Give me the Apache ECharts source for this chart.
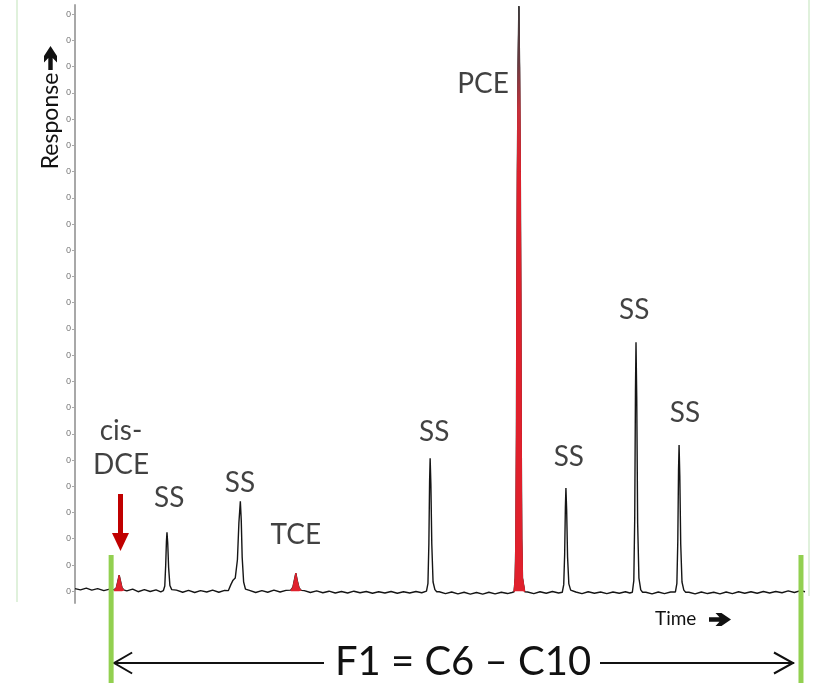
<!DOCTYPE html>
<html>
<head>
<meta charset="utf-8">
<script src="https://cdn.jsdelivr.net/npm/echarts@6/dist/echarts.min.js"></script>
<style>
  html, body { margin: 0; padding: 0; background: #fff; }
  #chart { width: 815px; height: 683px; }
</style>
</head>
<body>
<div id="chart"></div>
<script>
// Chromatogram: detector response vs. retention time (min)

// Baseline samples between peaks [time, response]
const baseline = [
  [0.00, 0.10], [0.15, 0.05], [0.31, 0.12], [0.46, 0.04], [0.62, 0.10], [0.79, 0.02], [0.95, 0.08],
  [1.42, 0.01], [1.58, 0.08], [1.73, -0.02], [1.90, 0.06], [2.06, -0.01], [2.22, 0.05], [2.35, -0.03],
  [2.78, 0.04], [2.95, -0.04], [3.11, 0.03], [3.28, -0.05], [3.44, 0.02], [3.61, -0.03], [3.77, 0.04],
  [3.94, -0.04], [4.10, 0.03],
  [4.78, 0.03], [4.95, -0.05], [5.12, 0.02], [5.28, -0.04], [5.45, 0.04], [5.62, -0.03], [5.78, 0.03],
  [6.28, 0.02], [6.45, -0.05], [6.62, 0.01], [6.79, -0.06], [6.96, 0.00], [7.13, -0.07], [7.30, -0.01],
  [7.47, -0.07], [7.64, 0.00], [7.81, -0.06], [7.98, -0.01], [8.15, -0.08], [8.32, -0.02], [8.49, -0.07],
  [8.66, -0.01], [8.83, -0.08], [9.00, -0.02], [9.17, -0.07], [9.34, -0.01], [9.50, -0.06],
  [9.98, -0.02], [10.15, -0.09], [10.32, -0.03], [10.49, -0.10], [10.66, -0.04], [10.83, -0.11],
  [11.00, -0.05], [11.17, -0.11], [11.34, -0.04], [11.51, -0.10], [11.68, -0.04], [11.85, -0.09], [11.97, -0.05],
  [12.40, -0.03], [12.57, -0.09], [12.74, -0.02], [12.91, -0.08], [13.08, -0.01], [13.25, -0.07],
  [13.72, -0.03], [13.89, -0.09], [14.06, -0.02], [14.23, -0.08], [14.40, -0.03], [14.57, -0.09],
  [14.74, -0.03], [14.91, -0.08], [15.08, -0.02], [15.20, -0.07],
  [15.64, -0.04], [15.81, -0.10], [15.98, -0.03], [16.15, -0.09], [16.32, -0.03],
  [16.82, -0.04], [16.99, -0.10], [17.16, -0.03], [17.33, -0.09], [17.50, -0.04], [17.67, -0.10],
  [17.84, -0.03], [18.01, -0.09], [18.18, -0.02], [18.35, -0.08], [18.52, -0.02], [18.69, -0.08],
  [18.86, -0.01], [19.03, -0.07], [19.20, -0.01], [19.37, -0.06], [19.54, 0.01], [19.71, -0.05],
  [19.88, 0.02], [20.00, -0.02]
];

// Target analytes (filled red)
const peakCisDCE = [[1.07, 0.05], [1.13, 0.12], [1.17, 0.35], [1.21, 0.61], [1.25, 0.36], [1.29, 0.12], [1.35, 0.04]];
const peakTCE = [[5.91, 0.04], [5.97, 0.15], [6.01, 0.42], [6.05, 0.69], [6.09, 0.40], [6.14, 0.12], [6.20, 0.03]];
const peakPCE = [[12.03, -0.02], [12.06, 0.5], [12.08, 2.0], [12.095, 6.0], [12.105, 11.0], [12.12, 16.0],
  [12.14, 20.0], [12.16, 22.3], [12.18, 20.0], [12.20, 16.0], [12.215, 11.0], [12.225, 6.0],
  [12.24, 2.0], [12.26, 0.5], [12.32, -0.02]];

// Surrogate standards
const peakSS1 = [[2.42, 0.02], [2.46, 0.20], [2.485, 1.00], [2.505, 1.90], [2.52, 2.25], [2.54, 1.85],
  [2.565, 0.90], [2.60, 0.22], [2.65, 0.06], [2.70, 0.02]];
const peakSS2 = [[4.20, 0.02], [4.27, 0.25], [4.33, 0.42], [4.39, 0.50], [4.45, 1.20], [4.49, 2.60],
  [4.53, 3.43], [4.555, 2.70], [4.58, 1.30], [4.62, 0.35], [4.67, 0.08], [4.72, 0.01]];
const peakSS3 = [[9.63, 0.00], [9.67, 0.30], [9.695, 1.80], [9.715, 4.20], [9.73, 5.07], [9.75, 4.10],
  [9.775, 1.80], [9.81, 0.35], [9.86, 0.06], [9.91, -0.02]];
const peakSS4 = [[13.35, -0.04], [13.39, 0.25], [13.415, 1.40], [13.435, 3.20], [13.45, 3.93], [13.47, 3.10],
  [13.495, 1.30], [13.53, 0.28], [13.58, 0.04], [13.63, -0.03]];
const peakSS5 = [[15.27, -0.04], [15.31, 0.40], [15.335, 2.80], [15.355, 7.60], [15.37, 9.49], [15.39, 7.40],
  [15.415, 2.60], [15.45, 0.50], [15.50, 0.05], [15.55, -0.04]];
const peakSS6 = [[16.45, -0.03], [16.49, 0.30], [16.515, 1.90], [16.535, 4.60], [16.55, 5.57], [16.57, 4.40],
  [16.595, 1.80], [16.63, 0.35], [16.68, 0.04], [16.73, -0.04]];

// Peak names with their label anchor [time, response, text]
const peakLabels = [
  [1.26, 5.46, 'cis-\nDCE'],
  [2.58, 3.55, 'SS'],
  [4.52, 4.12, 'SS'],
  [6.05, 2.14, 'TCE'],
  [9.84, 6.07, 'SS'],
  [11.18, 19.34, 'PCE'],
  [13.53, 5.12, 'SS'],
  [15.32, 10.72, 'SS'],
  [16.71, 6.79, 'SS']
];

// Fraction window boundaries (C6 and C10 retention times)
const fractionBounds = [0.99, 19.89];
const cisDCETime = 1.26;

// Y-axis tick positions; every tick is printed as '0'
const yTicks = [0, 1, 2, 3, 4, 5, 6, 7, 8, 9, 10, 11, 12, 13, 14, 15, 16, 17, 18, 19, 20, 21, 22];
const yTickText = '0';

const trace = baseline
  .concat(peakCisDCE, peakSS1, peakSS2, peakTCE, peakSS3, peakPCE, peakSS4, peakSS5, peakSS6)
  .sort((a, b) => a[0] - b[0]);

const FONT = 'Lato, "Open Sans", sans-serif';
const RED = '#e0202c';
const INK = '#111';

const chart = echarts.init(document.getElementById('chart'), null, { renderer: 'canvas' });

function redPeak(data, gradient) {
  const fill = gradient
    ? new echarts.graphic.LinearGradient(0, 0, 0, 1, [
        { offset: 0, color: '#3a3a3a' },
        { offset: 0.1, color: '#6a3a40' },
        { offset: 0.18, color: '#c8303a' },
        { offset: 0.3, color: RED },
        { offset: 1, color: RED }
      ])
    : RED;
  return {
    type: 'line',
    data: data,
    symbol: 'none',
    smooth: false,
    z: 3,
    lineStyle: { color: fill, width: 1 },
    areaStyle: { color: fill, opacity: 1, origin: 0 },
    silent: true
  };
}

chart.setOption({
  animation: false,
  backgroundColor: '#fff',
  grid: { left: 75, right: 10, top: 5, bottom: 80 },
  xAxis: {
    type: 'value',
    min: 0,
    max: 20,
    show: false
  },
  yAxis: {
    type: 'value',
    min: -0.45,
    max: 22.35,
    axisLine: { show: true, lineStyle: { color: '#a8a8a8', width: 2 } },
    axisTick: { show: true, customValues: yTicks, length: 3, lineStyle: { color: '#a8a8a8' } },
    axisLabel: {
      show: true,
      customValues: yTicks,
      formatter: () => yTickText,
      fontSize: 8,
      color: '#666',
      margin: 4,
      fontFamily: FONT
    },
    splitLine: { show: false }
  },
  series: [
    {
      name: 'trace',
      type: 'line',
      data: trace,
      symbol: 'none',
      z: 2,
      lineStyle: { color: '#151515', width: 1.4 },
      silent: true
    },
    redPeak(peakCisDCE, false),
    redPeak(peakTCE, false),
    redPeak(peakPCE, true),
    {
      name: 'labels',
      type: 'scatter',
      data: peakLabels,
      symbolSize: 0,
      z: 5,
      silent: true,
      label: {
        show: true,
        position: 'inside',
        formatter: p => p.data[2],
        fontFamily: FONT,
        fontSize: 28,
        lineHeight: 34,
        color: INK,
        align: 'center',
        verticalAlign: 'middle'
      }
    }
  ]
});

// Decorations placed from data positions
const xC6 = chart.convertToPixel({ gridIndex: 0 }, [fractionBounds[0], 0])[0];
const xC10 = chart.convertToPixel({ gridIndex: 0 }, [fractionBounds[1], 0])[0];
const xArrow = chart.convertToPixel({ gridIndex: 0 }, [cisDCETime, 0])[0] - 0.5;
const GREEN = '#92d050';
const arrowY = 663;
const lineStyle = { stroke: INK, lineWidth: 2, fill: null };

chart.setOption({
  graphic: [
    // faint page frame lines
    { type: 'line', shape: { x1: 17, y1: 0, x2: 17, y2: 602 }, style: { stroke: '#d6ecd0', lineWidth: 1.5 } },
    { type: 'line', shape: { x1: 809, y1: 0, x2: 809, y2: 596 }, style: { stroke: '#d6ecd0', lineWidth: 1.5 } },
    // fraction boundaries
    { type: 'rect', shape: { x: xC6 - 2.5, y: 555, width: 5, height: 128 }, style: { fill: GREEN }, z: 10 },
    { type: 'rect', shape: { x: xC10 - 2.5, y: 555, width: 5, height: 128 }, style: { fill: GREEN }, z: 10 },
    // double-headed arrow with fraction text
    { type: 'line', shape: { x1: xC6 + 2.5, y1: arrowY, x2: 324, y2: arrowY }, style: lineStyle },
    { type: 'polyline', shape: { points: [[xC6 + 21, arrowY - 10.5], [xC6 + 3, arrowY], [xC6 + 21, arrowY + 10.5]] }, style: lineStyle },
    { type: 'line', shape: { x1: 600, y1: arrowY, x2: xC10 - 7, y2: arrowY }, style: lineStyle },
    { type: 'polyline', shape: { points: [[xC10 - 27, arrowY - 10.5], [xC10 - 8, arrowY], [xC10 - 27, arrowY + 10.5]] }, style: lineStyle },
    {
      type: 'text', x: 463, y: 662,
      style: { text: 'F1 = C6 – C10', font: '40px ' + FONT, fill: INK, align: 'center', verticalAlign: 'middle' }
    },
    // red pointer above cis-DCE
    { type: 'rect', shape: { x: xArrow - 2.5, y: 494, width: 5, height: 41 }, style: { fill: '#c00000' } },
    { type: 'polygon', shape: { points: [[xArrow - 8.5, 533], [xArrow + 8.5, 533], [xArrow, 551]] }, style: { fill: '#c00000' } },
    // x caption with heavy arrow
    {
      type: 'text', x: 655, y: 619,
      style: { text: 'Time', font: '19px ' + FONT, fill: INK, align: 'left', verticalAlign: 'middle' }
    },
    {
      type: 'polygon',
      shape: { points: [[709, 617.3], [719.5, 617.3], [715.5, 613], [721.5, 613], [731, 619.5], [721.5, 626], [715.5, 626], [719.5, 621.7], [709, 621.7]] },
      style: { fill: INK }
    },
    // y caption with heavy arrow
    {
      type: 'text', x: 51, y: 121, rotation: Math.PI / 2,
      style: { text: 'Response', font: '23px ' + FONT, fill: INK, align: 'center', verticalAlign: 'middle' }
    },
    {
      type: 'polygon',
      shape: { points: [[48.3, 70], [48.3, 58], [44, 62.5], [44, 56], [50.5, 46], [57, 56], [57, 62.5], [52.7, 58], [52.7, 70]] },
      style: { fill: INK }
    }
  ]
});
</script>
</body>
</html>
